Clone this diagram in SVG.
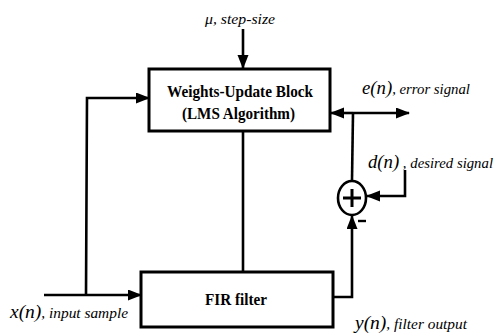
<svg xmlns="http://www.w3.org/2000/svg" width="498" height="335" viewBox="0 0 498 335">
  <style>
    .box { fill: #ffffff; stroke: #000000; stroke-width: 3; }
    .wire { fill: none; stroke: #000000; stroke-width: 2.6; }
    text { font-family: "Liberation Serif", "Times New Roman", serif; fill: #000; }
    .bold { font-weight: bold; font-size: 16px; }
    .lbl { font-style: italic; font-size: 15px; }
    .sig { font-size: 19px; }
  </style>
  <defs>
    <marker id="arrow" markerUnits="userSpaceOnUse" markerWidth="14" markerHeight="12" refX="13" refY="5.5" orient="auto">
      <path d="M0,0 L14,5.5 L0,11 z" fill="#000"/>
    </marker>
  </defs>

  <!-- signal paths -->
  <g id="connectors">
    <!-- step-size input -->
    <line class="wire" x1="243" y1="29" x2="243" y2="68" marker-end="url(#arrow)"/>
    <!-- x(n) into FIR filter -->
    <line class="wire" x1="44" y1="295" x2="141" y2="295" marker-end="url(#arrow)"/>
    <!-- x(n) branch into the update block -->
    <path class="wire" d="M86,295 L87,98 L149,98" marker-end="url(#arrow)"/>
    <!-- coefficients: update block to FIR filter -->
    <line class="wire" x1="243" y1="131" x2="243" y2="272"/>
    <!-- error signal -->
    <line class="wire" x1="353" y1="113" x2="331" y2="113" marker-end="url(#arrow)"/>
    <line class="wire" x1="353" y1="113" x2="409" y2="113" marker-end="url(#arrow)"/>
    <line class="wire" x1="353" y1="113" x2="352" y2="180"/>
    <!-- desired signal into summer -->
    <path class="wire" d="M405,170 V196 H367" marker-end="url(#arrow)"/>
    <!-- filter output into summer -->
    <path class="wire" d="M333,297 H352 V216" marker-end="url(#arrow)"/>
  </g>

  <g id="update-block">
    <rect class="box" x="149" y="69" width="181" height="62"/>
    <text class="bold" x="167" y="97" textLength="146" lengthAdjust="spacingAndGlyphs">Weights-Update Block</text>
    <text class="bold" x="182" y="119" textLength="113" lengthAdjust="spacingAndGlyphs">(LMS Algorithm)</text>
  </g>

  <g id="fir-filter">
    <rect class="box" x="141" y="272" width="192" height="55"/>
    <text class="bold" x="205" y="305" textLength="62" lengthAdjust="spacingAndGlyphs">FIR filter</text>
  </g>

  <g id="summer">
    <ellipse cx="352" cy="198" rx="14" ry="17" fill="#fff" stroke="#000" stroke-width="2.6"/>
    <path d="M343,198 H361 M352,189 V207" stroke="#000" stroke-width="3" fill="none"/>
    <line x1="358" y1="221" x2="366" y2="221" stroke="#000" stroke-width="2.4"/>
  </g>

  <g id="labels">
    <text class="lbl" x="205" y="24" textLength="70" lengthAdjust="spacingAndGlyphs">μ, step-size</text>
    <text class="lbl" x="362" y="94" textLength="108" lengthAdjust="spacingAndGlyphs"><tspan class="sig">e(n)</tspan>, error signal</text>
    <text class="lbl" x="368" y="168" textLength="125" lengthAdjust="spacingAndGlyphs"><tspan class="sig">d(n)</tspan> , desired signal</text>
    <text class="lbl" x="10" y="318" textLength="118" lengthAdjust="spacingAndGlyphs"><tspan class="sig" font-size="18">x(n)</tspan>, input sample</text>
    <text class="lbl" x="355" y="329" textLength="112" lengthAdjust="spacingAndGlyphs"><tspan class="sig" font-size="18">y(n)</tspan>, filter output</text>
  </g>
</svg>
